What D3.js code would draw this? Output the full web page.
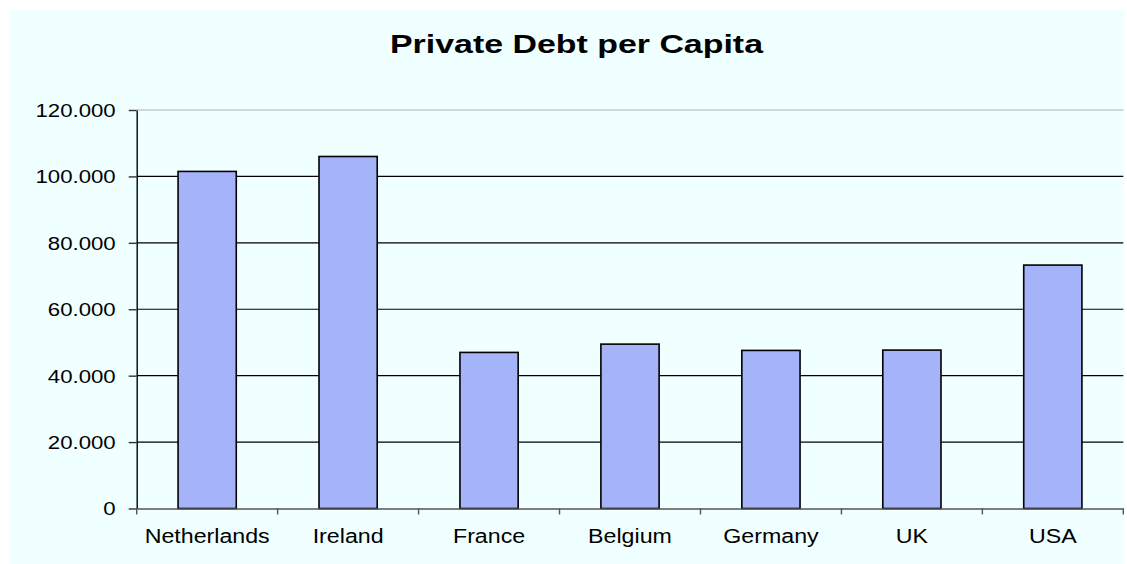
<!DOCTYPE html>
<html>
<head>
<meta charset="utf-8">
<script src="https://cdn.jsdelivr.net/npm/d3@7"></script>
<style>
  html, body { margin: 0; padding: 0; background: #ffffff; }
  svg { display: block; }
  text { font-family: "Liberation Sans", Arial, sans-serif; fill: #000; }
</style>
</head>
<body>
<svg id="chart" width="1127" height="564"></svg>
<script>
// Private debt per capita by country
const countries = ["Netherlands", "Ireland", "France", "Belgium", "Germany", "UK", "USA"];
const debtPerCapita = [101500, 106000, 47000, 49500, 47600, 47700, 73300];
const yTicks = [0, 20000, 40000, 60000, 80000, 100000, 120000];
const chartTitle = "Private Debt per Capita";

const W = 1127, H = 564;
const plot = { left: 136.7, right: 1123.3, top: 110, bottom: 508.5 };

const svg = d3.select("#chart");

// chart area background
svg.append("rect")
  .attr("x", 10).attr("y", 10)
  .attr("width", W - 13).attr("height", H - 10)
  .attr("fill", "#f0ffff");

const x = d3.scaleBand()
  .domain(countries)
  .range([plot.left, plot.right])
  .paddingInner(0.587)
  .paddingOuter(0.2935);

const y = d3.scaleLinear()
  .domain([0, 120000])
  .range([plot.bottom, plot.top]);

// horizontal gridlines
svg.append("g")
  .selectAll("line")
  .data(yTicks.filter(t => t > 0))
  .join("line")
  .attr("x1", plot.left).attr("x2", plot.right)
  .attr("y1", d => y(d)).attr("y2", d => y(d))
  .attr("stroke", d => d === 120000 ? "#c4cccc" : "#000")
  .attr("stroke-width", d => d === 120000 ? 1.5 : 1.2);

// bars
svg.append("g")
  .selectAll("rect")
  .data(countries.map((c, i) => ({ c, v: debtPerCapita[i] })))
  .join("rect")
  .attr("x", d => x(d.c))
  .attr("y", d => y(d.v))
  .attr("width", x.bandwidth())
  .attr("height", d => y(0) - y(d.v))
  .attr("fill", "#a5b3f9")
  .attr("stroke", "#000")
  .attr("stroke-width", 1.6);

// y axis
const fmt = v => v === 0 ? "0" : d3.format(",")(v).replace(/,/g, ".") + "";
const yAxis = d3.axisLeft(y)
  .tickValues(yTicks)
  .tickSize(8)
  .tickSizeOuter(0)
  .tickFormat(d => d === 0 ? "0" : d3.format(".3f")(d / 1000));
const gy = svg.append("g")
  .attr("transform", `translate(${plot.left},0)`)
  .call(yAxis);
gy.select(".domain").attr("stroke", "#000").attr("stroke-width", 1.4);
gy.selectAll(".tick line").attr("stroke", "#333").attr("stroke-width", 1.4);
gy.selectAll(".tick text")
  .attr("x", null).attr("dy", "0.35em")
  .attr("transform", "translate(-21,0) scale(1.2,1)")
  .style("font-size", "18.5px");

// x axis
const xAxis = d3.axisBottom(x).tickSize(0).tickSizeOuter(0);
const gx = svg.append("g")
  .attr("transform", `translate(0,${plot.bottom})`)
  .call(xAxis);
gx.select(".domain").attr("stroke", "#555").attr("stroke-width", 1.4);
gx.selectAll(".tick text")
  .attr("y", null).attr("dy", null)
  .attr("transform", "translate(0,34.5) scale(1.19,1)")
  .style("font-size", "19.5px");

// category separators on the x axis
const step = x.step();
const sepPositions = d3.range(countries.length + 1).map(i => plot.left + i * step);
gx.append("g")
  .selectAll("line")
  .data(sepPositions)
  .join("line")
  .attr("x1", d => d).attr("x2", d => d)
  .attr("y1", 0).attr("y2", 6)
  .attr("stroke", "#555").attr("stroke-width", 1.4);

// title
svg.append("text")
  .attr("x", 576.5).attr("y", 53.3)
  .attr("text-anchor", "middle")
  .attr("textLength", 373)
  .attr("lengthAdjust", "spacingAndGlyphs")
  .style("font-size", "25px")
  .style("font-weight", "bold")
  .text(chartTitle);
</script>
</body>
</html>
